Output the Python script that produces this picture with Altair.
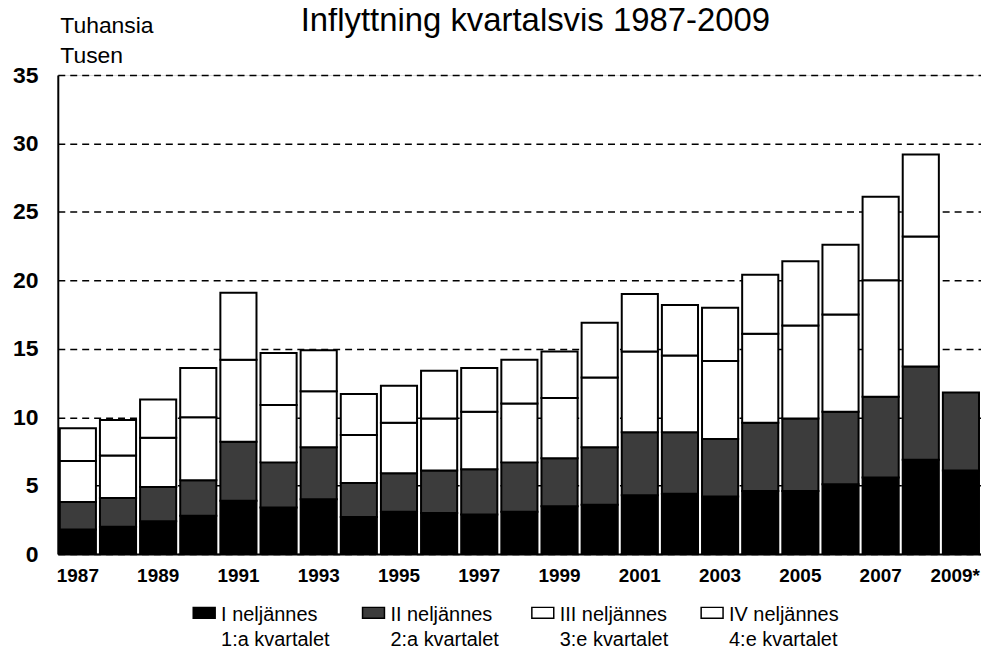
import altair as alt
import pandas as pd

years = [str(y) for y in range(1987, 2009)] + ["2009*"]
x_tick_labels = ["1987", "1989", "1991", "1993", "1995", "1997", "1999",
                 "2001", "2003", "2005", "2007", "2009*"]

q1 = [1.8, 2.0, 2.4, 2.8, 3.9, 3.4, 4.0, 2.7, 3.1, 3.0, 2.9, 3.1, 3.5, 3.6,
      4.3, 4.4, 4.2, 4.6, 4.6, 5.1, 5.6, 6.9, 6.1]
q2 = [2.0, 2.1, 2.5, 2.6, 4.3, 3.3, 3.8, 2.5, 2.8, 3.1, 3.3, 3.6, 3.5, 4.2,
      4.6, 4.5, 4.2, 5.0, 5.3, 5.3, 5.9, 6.8, 5.7]
q3 = [3.0, 3.1, 3.6, 4.6, 6.0, 4.2, 4.1, 3.5, 3.7, 3.8, 4.2, 4.3, 4.4, 5.1,
      5.9, 5.6, 5.7, 6.5, 6.8, 7.1, 8.5, 9.5, None]
q4 = [2.4, 2.6, 2.8, 3.6, 4.9, 3.8, 3.0, 3.0, 2.7, 3.5, 3.2, 3.2, 3.4, 4.0,
      4.2, 3.7, 3.9, 4.3, 4.7, 5.1, 6.1, 6.0, None]

quarter_names = ["I neljännes|1:a kvartalet", "II neljännes|2:a kvartalet",
                 "III neljännes|3:e kvartalet", "IV neljännes|4:e kvartalet"]
quarter_colors = ["#000000", "#3c3c3c", "#ffffff", "#ffffff"]

rows = []
for qi, series in enumerate([q1, q2, q3, q4]):
    for yr, v in zip(years, series):
        if v is not None:
            rows.append({"year": yr, "quarter": quarter_names[qi], "order": qi, "value": v})
df = pd.DataFrame(rows)

FONT = "Liberation Sans"
last_test = "datum.value === '%s'" % x_tick_labels[-1]

chart = alt.Chart(df).mark_bar(stroke="black", strokeWidth=2).encode(
    x=alt.X("year:N", sort=years,
            scale=alt.Scale(paddingInner=0.1, paddingOuter=0.05),
            axis=alt.Axis(values=x_tick_labels, title=None, labelAngle=0,
                          labelFont=FONT, labelFontSize=19, labelFontWeight="bold",
                          labelColor="black", tickSize=0, labelPadding=13,
                          labelAlign={"condition": {"test": last_test, "value": "right"},
                                      "value": "center"},
                          labelOffset={"condition": {"test": last_test, "value": 19},
                                       "value": 0},
                          domainColor="black", domainWidth=2)),
    y=alt.Y("value:Q", stack="zero",
            scale=alt.Scale(domain=[0, 35], nice=False),
            axis=alt.Axis(values=[0, 5, 10, 15, 20, 25, 30, 35],
                          title=["Tuhansia", "Tusen"], titleAngle=0,
                          titleX=2, titleY=-61, titleAlign="left",
                          titleBaseline="top", titleFont=FONT, titleFontSize=23,
                          titleFontWeight="normal", titleColor="black",
                          titleLineHeight=30,
                          labelFont=FONT, labelFontSize=23, labelFontWeight="bold",
                          labelColor="black", tickSize=0, labelPadding=20,
                          domainColor="black", domainWidth=2,
                          grid=True, gridColor="black", gridDash=[7, 5],
                          gridWidth=1.5, minExtent=45, maxExtent=45)),
    color=alt.Color("quarter:N", sort=quarter_names,
                    scale=alt.Scale(domain=quarter_names, range=quarter_colors),
                    legend=alt.Legend(title=None, orient="none",
                                      legendX=135, legendY=530,
                                      direction="horizontal", columns=4,
                                      columnPadding=30, padding=0,
                                      labelExpr="split(datum.label, '|')",
                                      labelFont=FONT, labelFontSize=20,
                                      labelColor="black", labelLimit=400,
                                      labelBaseline="middle",
                                      labelOffset=5,
                                      symbolType="M-1,-0.68H1V0.32H-1Z",
                                      symbolSize=484, symbolStrokeColor="black",
                                      symbolStrokeWidth=1.5)),
    order=alt.Order("order:Q", sort="ascending"),
).properties(
    width=927, height=481,
    title=alt.Title("Inflyttning kvartalsvis 1987-2009", font=FONT, fontSize=33,
                    fontWeight="normal", color="black", anchor="middle",
                    dx=16, offset=-50, baseline="alphabetic"),
    autosize=alt.AutoSizeParams(type="none"),
    padding={"left": 50, "top": 66, "right": 0, "bottom": 94},
).configure_view(stroke=None).configure(
    background="white",
    style={"guide-label": {"lineHeight": 25}},
)

chart.save("out.html", embed_options={"renderer": "svg", "actions": False})
